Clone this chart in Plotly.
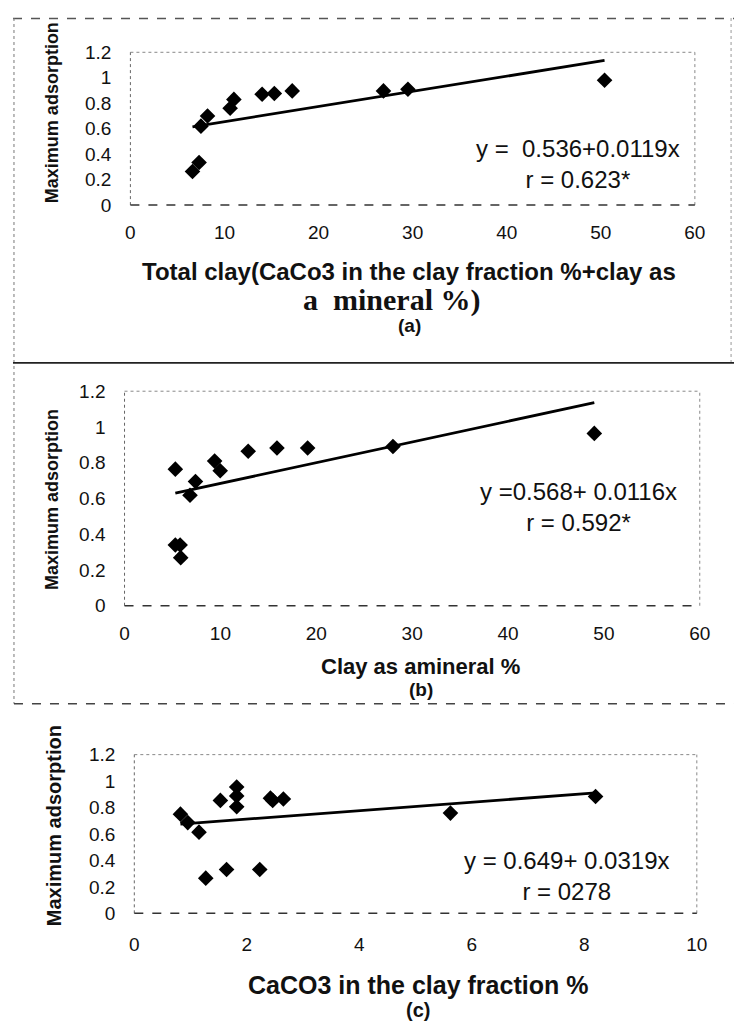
import plotly.graph_objects as go

# page: body has an 8px default margin, so the figure is placed at (8, 8)
OFF = 8
W, H = 745 - OFF, 1036 - OFF

# ---------------- data ----------------
# (a) Total clay % vs maximum adsorption
a_x = [6.6, 7.3, 7.5, 8.2, 10.6, 11.0, 14.0, 15.3, 17.2, 26.9, 29.5, 50.4]
a_y = [0.264, 0.335, 0.62, 0.70, 0.76, 0.83, 0.87, 0.876, 0.897, 0.897, 0.91, 0.98]
a_intercept, a_slope = 0.536, 0.0119
a_eq = "y =\u00a0\u00a00.536+0.0119x"
a_r = "r = 0.623*"

# (b) Clay as a mineral % vs maximum adsorption
b_x = [5.3, 5.3, 5.8, 5.86, 6.83, 7.4, 9.4, 9.98, 12.9, 15.9, 19.1, 28.0, 49.0]
b_y = [0.764, 0.34, 0.34, 0.269, 0.618, 0.695, 0.809, 0.755, 0.864, 0.882, 0.882, 0.891, 0.964]
b_intercept, b_slope = 0.568, 0.0116
b_eq = "y =0.568+ 0.0116x"
b_r = "r = 0.592*"

# (c) CaCO3 in the clay fraction % vs maximum adsorption
c_x = [0.82, 0.95, 1.15, 1.27, 1.53, 1.64, 1.82, 1.82, 1.82, 2.23, 2.42, 2.46, 2.65, 5.62, 8.2]
c_y = [0.75, 0.686, 0.614, 0.266, 0.854, 0.331, 0.955, 0.888, 0.806, 0.331, 0.871, 0.854, 0.864, 0.758, 0.883]
c_intercept, c_slope = 0.649, 0.0319
c_eq = "y = 0.649+ 0.0319x"
c_r = "r = 0278"

y_ticks = [0, 0.2, 0.4, 0.6, 0.8, 1.0, 1.2]
y_ticklabels = ["0", "0.2", "0.4", "0.6", "0.8", "1", "1.2"]
ab_xticks = [0, 10, 20, 30, 40, 50, 60]
c_xticks = [0, 2, 4, 6, 8, 10]

y_title = "Maximum adsorption"
a_xtitle1 = "Total clay(CaCo3 in the clay fraction %+clay as"
a_xtitle2 = "a\u00a0\u00a0mineral %)"
b_xtitle = "Clay as amineral %"
c_xtitle = "CaCO3 in the clay fraction %"

# ---------------- layout helpers ----------------
SANS = "Liberation Sans, Arial, sans-serif"
SERIF = "Liberation Serif, Times New Roman, serif"


def px(x):
    return (x - OFF) / W


def py(y):
    return 1 - (y - OFF) / H


fig = go.Figure()

panels = [
    # axis suffix, xs, ys, intercept, slope, eq, r, text pos, xdomain px, ydomain px, xticks, xrange, standoff
    ("", a_x, a_y, a_intercept, a_slope, a_eq, a_r, (47.6, 0.32),
     (128, 705), (43, 199), ab_xticks, [0, 60], 14),
    ("2", b_x, b_y, b_intercept, b_slope, b_eq, b_r, (47.4, 0.55),
     (122, 710), (389, 608), ab_xticks, [0, 60], 14),
    ("3", c_x, c_y, c_intercept, c_slope, c_eq, c_r, (7.7, 0.28),
     (132, 707), (760, 922), c_xticks, [0, 10], 18),
]

shapes = []
annotations = []

for name, xs, ys, b0, b1, eq, rr, tpos, xd, yd, xt, xr, so in panels:
    xa = "x" + name
    ya = "y" + name
    fig.add_trace(go.Scatter(
        x=xs, y=ys, mode="markers", xaxis=xa, yaxis=ya,
        marker=dict(symbol="diamond", size=12, color="black"),
        showlegend=False, hoverinfo="x+y"))
    lx = [min(xs), max(xs)]
    ly = [b0 + b1 * v for v in lx]
    fig.add_trace(go.Scatter(
        x=lx, y=ly, mode="lines", xaxis=xa, yaxis=ya,
        line=dict(color="black", width=2.8), showlegend=False, hoverinfo="skip"))

    fig.update_layout({
        "xaxis" + name: dict(
            domain=[px(xd[0]), px(xd[1])], range=xr, anchor=ya,
            tickvals=xt, ticktext=[str(v) for v in xt],
            showgrid=False, zeroline=False, showline=False, ticks="",
            ticklabelstandoff=so,
            tickfont=dict(family=SANS, size=19, color="#111")),
        "yaxis" + name: dict(
            domain=[py(yd[1]), py(yd[0])], range=[0, 1.2], anchor=xa,
            tickvals=y_ticks, ticktext=y_ticklabels,
            showgrid=False, zeroline=False, showline=False, ticks="",
            ticklabelstandoff=18,
            tickfont=dict(family=SANS, size=19, color="#111")),
    })

    # plot-area border (dotted, scanned look)
    xdref = xa + " domain"
    ydref = ya + " domain"
    shapes += [
        dict(type="line", xref=xdref, yref=ydref, x0=0, x1=1, y0=1, y1=1,
             line=dict(color="#888", width=1, dash="dot")),
        dict(type="line", xref=xdref, yref=ydref, x0=1, x1=1, y0=0, y1=1,
             line=dict(color="#888", width=1, dash="dot")),
        dict(type="line", xref=xdref, yref=ydref, x0=0, x1=0, y0=0, y1=1,
             line=dict(color="#666", width=1, dash="dot")),
        dict(type="line", xref=xdref, yref=ydref, x0=0, x1=1, y0=0, y1=0,
             line=dict(color="#333", width=1.5, dash="dash")),
    ]
    annotations.append(
        dict(x=tpos[0], y=tpos[1], xref=xa, yref=ya, text=eq + "<br>" + rr,
             showarrow=False, align="center",
             font=dict(family=SANS, size=24, color="#111"),
             xanchor="center", yanchor="middle"))


def txt(x, y, text, size, family=SANS, bold=True, angle=0):
    t = "<b>" + text + "</b>" if bold else text
    return dict(x=px(x), y=py(y), xref="paper", yref="paper", text=t, showarrow=False,
                textangle=angle, xanchor="center", yanchor="middle",
                font=dict(family=family, size=size, color="#111"))


annotations += [
    txt(48, 105, y_title, 18, angle=-90),
    txt(48, 500, y_title, 18, angle=-90),
    txt(50, 833, y_title, 20, angle=-90),
    txt(413, 267, a_xtitle1, 24),
    txt(395, 296, a_xtitle2, 30, family=SERIF),
    txt(413, 322, "(a)", 19),
    txt(425, 670, b_xtitle, 22),
    txt(425, 694, "(b)", 19),
    txt(422, 995, c_xtitle, 25),
    txt(422, 1021, "(c)", 20),
]

# outer frame lines of the scanned figure
shapes += [
    dict(type="line", xref="paper", yref="paper", x0=px(8), x1=px(745), y0=py(8.5), y1=py(8.5),
         line=dict(color="#555", width=1.5, dash="dash")),
    dict(type="line", xref="paper", yref="paper", x0=px(9), x1=px(9), y0=py(8), y1=py(708),
         line=dict(color="#777", width=1, dash="dot")),
    dict(type="line", xref="paper", yref="paper", x0=px(742), x1=px(742), y0=py(8), y1=py(360),
         line=dict(color="#999", width=1, dash="dot")),
    dict(type="line", xref="paper", yref="paper", x0=px(8), x1=px(745), y0=py(360), y1=py(360),
         line=dict(color="#222", width=1.8)),
    dict(type="line", xref="paper", yref="paper", x0=px(9), x1=px(745), y0=py(708), y1=py(708),
         line=dict(color="#444", width=1.5, dash="dash")),
]

fig.update_layout(
    width=W, height=H,
    margin=dict(l=0, r=0, t=0, b=0),
    paper_bgcolor="white", plot_bgcolor="white",
    shapes=shapes, annotations=annotations,
    showlegend=False,
)

fig.write_html("out.html")
